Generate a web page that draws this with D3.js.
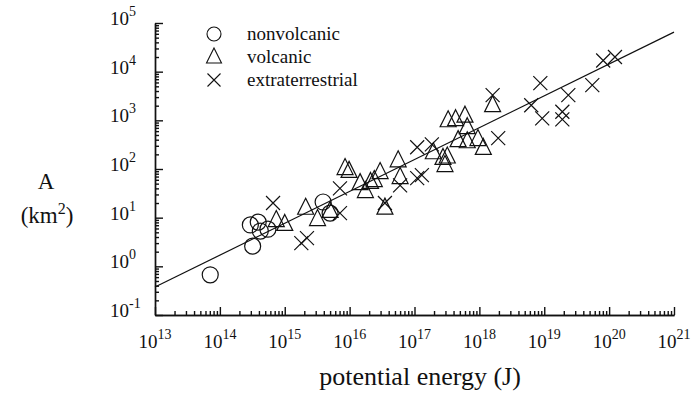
<!DOCTYPE html>
<html>
<head>
<meta charset="utf-8">
<script src="https://cdn.jsdelivr.net/npm/d3@7"></script>
<style>
  body { margin: 0; background: #fff; }
  text { font-family: 'Liberation Serif', 'DejaVu Serif', serif; }
</style>
</head>
<body>
<svg id="chart"></svg>
<script>
// Area vs potential energy, log-log, three groups of landslides

// nonvolcanic (circles)
const nonvolcanicE = [7.1e13, 3.2e14, 2.95e14, 3.9e14, 4.2e14, 5.5e14, 3.9e15, 5.0e15];
const nonvolcanicA = [0.67, 2.6, 7.1, 8.1, 5.3, 5.8, 21, 12.4];

// volcanic (triangles)
const volcanicE = [7.4e14, 1.0e15, 2.1e15, 3.2e15, 5.0e15, 8.5e15, 9.8e15, 1.45e16, 1.75e16, 2.1e16,
  2.4e16, 2.95e16, 3.5e16, 5.6e16, 6.0e16, 1.95e17, 2.75e17, 3.2e17, 2.95e17, 3.3e17,
  4.3e17, 6.0e17, 6.5e17, 4.7e17, 6.5e17, 9.5e17, 1.15e18, 1.6e18];
const volcanicA = [8.9, 7.4, 15.9, 9.3, 13.7, 104, 91, 51, 35, 54,
  59, 86, 16, 150, 68, 220, 168, 180, 120, 1000,
  1050, 1240, 720, 390, 370, 410, 270, 2040];

// extraterrestrial (crosses)
const extraE = [6.6e14, 1.8e15, 2.2e15, 7.1e15, 7.1e15, 3.5e16, 6.0e16, 1.1e17, 1.3e17, 1.1e17,
  1.85e17, 1.95e18, 1.6e18, 6.3e18, 8.7e18, 9.3e18, 1.9e19, 1.9e19, 2.35e19, 5.5e19,
  8.1e19, 1.23e20];
const extraA = [20, 3.0, 3.8, 40, 12.4, 20, 46, 65, 75, 280,
  320, 430, 3300, 2040, 5800, 1100, 1500, 1050, 3300, 5300,
  17000, 20000];

// fitted line end points
const fitE = [1e13, 1e21];
const fitA = [0.376, 6.5e4];

// axis ticks (exponents of ten)
const xExponents = [13, 14, 15, 16, 17, 18, 19, 20, 21];
const yExponents = [-1, 0, 1, 2, 3, 4, 5];

const legendLabels = ["nonvolcanic", "volcanic", "extraterrestrial"];

const W = 694, H = 398;
const margin = { top: 23, right: 20, bottom: 83, left: 155 };
const width = W - margin.left - margin.right;
const height = H - margin.top - margin.bottom;
const FONT = "'Liberation Serif', 'DejaVu Serif', serif";
const INK = "#111";

const svg = d3.select("#chart").attr("width", W).attr("height", H)
  .attr("font-family", FONT);
const g = svg.append("g").attr("transform", `translate(${margin.left},${margin.top})`);

const x = d3.scaleLog().domain([1e13, 1e21]).range([0, width]);
const y = d3.scaleLog().domain([1e-1, 1e5]).range([height, 0]);

const xMajor = xExponents.map(e => Math.pow(10, e));
const yMajor = yExponents.map(e => Math.pow(10, e));
const minorOf = majors => {
  const out = [];
  majors.slice(0, -1).forEach(m => { for (let k = 2; k <= 9; k++) out.push(k * m); });
  return out;
};

// axes: ticks pointing inside
const styleAxis = sel => {
  sel.selectAll("path,line").attr("stroke", INK).attr("stroke-width", 1.4);
  sel.selectAll("text").remove();
};
g.append("g").attr("transform", `translate(0,${height})`)
  .call(d3.axisBottom(x).tickValues(xMajor).tickSize(-8).tickSizeOuter(0)).call(styleAxis);
g.append("g").attr("transform", `translate(0,${height})`)
  .call(d3.axisBottom(x).tickValues(minorOf(xMajor)).tickSize(-4).tickSizeOuter(0)).call(styleAxis);
g.append("g")
  .call(d3.axisLeft(y).tickValues(yMajor).tickSize(-8).tickSizeOuter(0)).call(styleAxis);
g.append("g")
  .call(d3.axisLeft(y).tickValues(minorOf(yMajor)).tickSize(-4).tickSizeOuter(0)).call(styleAxis);

// tick labels as 10 with superscript
xExponents.forEach(e => {
  const t = g.append("text")
    .attr("x", x(Math.pow(10, e)))
    .attr("y", height + 33)
    .attr("text-anchor", "middle")
    .attr("font-family", FONT)
    .attr("font-size", 19)
    .attr("fill", INK);
  t.append("tspan").text("10");
  t.append("tspan").attr("dy", -9).attr("font-size", 14).text(e);
});
yExponents.forEach(e => {
  const t = g.append("text")
    .attr("x", -45)
    .attr("y", y(Math.pow(10, e)) + 2)
    .attr("text-anchor", "start")
    .attr("font-family", FONT)
    .attr("font-size", 19)
    .attr("fill", INK);
  t.append("tspan").text("10");
  t.append("tspan").attr("dy", -9).attr("font-size", 14).text(e);
});

// axis titles
svg.append("text")
  .attr("x", 420).attr("y", 385)
  .attr("text-anchor", "middle").attr("font-family", FONT)
  .attr("font-size", 26).attr("fill", INK)
  .text("potential energy (J)");
svg.append("text")
  .attr("x", 46).attr("y", 189)
  .attr("text-anchor", "middle").attr("font-family", FONT)
  .attr("font-size", 23).attr("fill", INK)
  .text("A");
const km = svg.append("text")
  .attr("x", 47).attr("y", 223)
  .attr("text-anchor", "middle").attr("font-family", FONT)
  .attr("font-size", 23).attr("fill", INK);
km.append("tspan").text("(km");
km.append("tspan").attr("dy", -9).attr("font-size", 16).text("2");
km.append("tspan").attr("dy", 9).text(")");

// fitted line
const fit = fitE.map((e, i) => [e, fitA[i]]);
g.append("path")
  .datum(fit)
  .attr("fill", "none")
  .attr("stroke", INK)
  .attr("stroke-width", 1.2)
  .attr("d", d3.line().x(d => x(d[0])).y(d => y(d[1])));

// marker shapes
const tri = s => `M0,${-s * 0.6}L${s / 2},${s * 0.4}L${-s / 2},${s * 0.4}Z`;
const cross = s => `M${-s},${-s}L${s},${s}M${-s},${s}L${s},${-s}`;

const drawCircles = (sel, E, A) => sel.selectAll(null)
  .data(E.map((e, i) => [e, A[i]])).enter().append("circle")
  .attr("cx", d => x(d[0])).attr("cy", d => y(d[1])).attr("r", 8)
  .attr("fill", "none").attr("stroke", INK).attr("stroke-width", 1.2);
const drawPaths = (sel, E, A, shape) => sel.selectAll(null)
  .data(E.map((e, i) => [e, A[i]])).enter().append("path")
  .attr("transform", d => `translate(${x(d[0])},${y(d[1])})`)
  .attr("d", shape)
  .attr("fill", "none").attr("stroke", INK).attr("stroke-width", 1.2);

drawCircles(g.append("g"), nonvolcanicE, nonvolcanicA);
drawPaths(g.append("g"), volcanicE, volcanicA, tri(16));
drawPaths(g.append("g"), extraE, extraA, cross(7));

// legend
const legend = svg.append("g").attr("transform", "translate(214,34)");
legend.append("circle").attr("cx", 0).attr("cy", 0).attr("r", 7)
  .attr("fill", "none").attr("stroke", INK).attr("stroke-width", 1.1);
legend.append("path").attr("transform", "translate(0,23)").attr("d", tri(15))
  .attr("fill", "none").attr("stroke", INK).attr("stroke-width", 1.1);
legend.append("path").attr("transform", "translate(0,46)").attr("d", cross(6.5))
  .attr("fill", "none").attr("stroke", INK).attr("stroke-width", 1.1);
legendLabels.forEach((label, i) => {
  legend.append("text")
    .attr("x", 33).attr("y", i * 23 + 6)
    .attr("font-family", FONT)
    .attr("font-size", 19).attr("fill", INK)
    .text(label);
});
</script>
</body>
</html>
